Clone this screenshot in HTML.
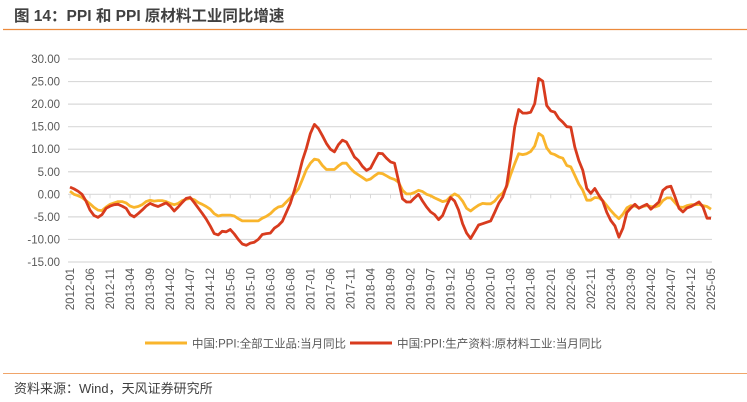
<!DOCTYPE html>
<html><head><meta charset="utf-8"><style>
html,body{margin:0;padding:0;background:#fff;}
body{width:747px;height:402px;overflow:hidden;position:relative;font-family:"Liberation Sans","Noto Sans CJK SC",sans-serif;}
</style></head><body>
<svg id="chart" width="747" height="402" xmlns="http://www.w3.org/2000/svg" style="position:absolute;left:0;top:0">
<text x="14" y="21" font-size="15.5" font-weight="bold" fill="#404040" font-family="Liberation Sans, Noto Sans CJK SC, sans-serif">图 14：PPI 和 PPI 原材料工业同比增速</text>
<line x1="3" y1="29.5" x2="747" y2="29.5" stroke="#ec8a3c" stroke-width="1.2"/>
<line x1="3" y1="373.5" x2="747" y2="373.5" stroke="#f0a56a" stroke-width="1"/>
<text x="14" y="393" font-size="13" fill="#404040" font-family="Liberation Sans, Noto Sans CJK SC, sans-serif">资料来源：Wind，天风证券研究所</text>
<g id="grid"></g><g id="yaxis"></g><g id="xaxis"></g><g id="series"></g>
<g>
<line x1="145" y1="343" x2="187" y2="343" stroke="#f9b52c" stroke-width="3"/>
<text x="192" y="347.5" font-size="11.5" fill="#595959" textLength="154" lengthAdjust="spacingAndGlyphs">中国:PPI:全部工业品:当月同比</text>
<line x1="350" y1="343" x2="392" y2="343" stroke="#d83b1e" stroke-width="3"/>
<text x="397" y="347.5" font-size="11.5" fill="#595959" textLength="205" lengthAdjust="spacingAndGlyphs">中国:PPI:生产资料:原材料工业:当月同比</text>
</g>
</svg>
<script>
const yTicks=[30,25,20,15,10,5,0,-5,-10,-15];
const xLabels=["2012-01","2012-06","2012-11","2013-04","2013-09","2014-02","2014-07","2014-12","2015-05","2015-10","2016-03","2016-08","2017-01","2017-06","2017-11","2018-04","2018-09","2019-02","2019-07","2019-12","2020-05","2020-10","2021-03","2021-08","2022-01","2022-06","2022-11","2023-04","2023-09","2024-02","2024-07","2024-12","2025-05"];
const ppiAll=[0.7,0.0,-0.3,-0.7,-1.4,-2.1,-2.9,-3.5,-3.6,-2.8,-2.2,-1.9,
-1.6,-1.6,-1.9,-2.6,-2.9,-2.7,-2.3,-1.6,-1.3,-1.5,-1.4,-1.4,
-1.6,-2.0,-2.3,-2.0,-1.4,-1.1,-0.9,-1.2,-1.8,-2.2,-2.7,-3.3,
-4.3,-4.8,-4.6,-4.6,-4.6,-4.8,-5.4,-5.9,-5.9,-5.9,-5.9,-5.9,
-5.3,-4.9,-4.3,-3.4,-2.8,-2.6,-1.7,-0.8,0.1,1.2,3.3,5.5,
6.9,7.8,7.6,6.4,5.5,5.5,5.5,6.3,6.9,6.9,5.8,4.9,
4.3,3.7,3.1,3.4,4.1,4.7,4.6,4.1,3.6,3.3,2.7,0.9,
0.1,0.1,0.4,0.9,0.6,0.0,-0.3,-0.8,-1.2,-1.6,-1.4,-0.5,
0.1,-0.4,-1.5,-3.1,-3.7,-3.0,-2.4,-2.0,-2.1,-2.1,-1.5,-0.4,
0.3,1.7,4.4,6.8,9.0,8.8,9.0,9.5,10.7,13.5,12.9,10.3,
9.1,8.8,8.3,8.0,6.4,6.1,4.2,2.3,0.9,-1.3,-1.3,-0.7,
-0.8,-1.4,-2.5,-3.6,-4.6,-5.4,-4.4,-3.0,-2.5,-2.6,-3.0,-2.7,
-2.5,-2.7,-2.8,-2.5,-1.4,-0.8,-0.8,-1.8,-2.8,-2.9,-2.5,-2.3,
-2.3,-2.2,-2.5,-2.7,-3.3];
const ppiRaw=[1.6,1.2,0.7,0.0,-1.5,-3.5,-4.7,-5.1,-4.5,-3.1,-2.6,-2.3,
-2.2,-2.6,-3.1,-4.5,-5.0,-4.3,-3.5,-2.6,-2.0,-2.4,-2.7,-2.3,
-1.9,-2.6,-3.7,-2.8,-1.8,-0.9,-0.7,-1.8,-3.0,-4.2,-5.5,-7.0,
-8.7,-9.0,-8.2,-8.3,-7.8,-8.8,-10.0,-11.0,-11.3,-10.8,-10.6,-10.0,
-8.9,-8.7,-8.6,-7.5,-6.9,-6.0,-4.0,-2.0,0.9,4.0,7.5,10.2,
13.5,15.5,14.6,13.0,11.3,10.0,9.4,11.0,12.0,11.6,10.0,8.3,
7.5,6.2,5.3,5.8,7.5,9.1,9.0,8.0,7.2,6.9,3.0,-1.0,
-1.7,-1.7,-0.8,0.0,-1.5,-2.8,-3.9,-4.5,-5.6,-4.7,-2.5,-0.7,
-1.5,-3.5,-6.5,-8.6,-9.8,-8.3,-6.8,-6.5,-6.2,-5.9,-4.0,-2.0,
-0.6,2.0,8.0,14.9,18.8,18.0,18.0,18.2,20.1,25.7,25.1,19.7,
18.5,18.2,16.8,16.0,15.0,14.9,10.5,7.5,5.3,1.3,0.2,1.3,
-0.2,-1.5,-4.0,-5.8,-7.0,-9.5,-7.5,-4.0,-3.0,-2.2,-3.1,-2.6,
-2.2,-3.3,-2.5,-1.7,0.9,1.6,1.8,-0.5,-3.1,-3.9,-3.0,-2.7,
-2.2,-1.7,-2.8,-5.3,-5.3];
const NS="http://www.w3.org/2000/svg";
const X0=70,X1=711,Y30=59,Yn15=262;
function x(i){return X0+i*(X1-X0)/(ppiAll.length-1);}
function y(v){return Y30+(30-v)*(Yn15-Y30)/45;}
function mk(tag,attrs,parent){const e=document.createElementNS(NS,tag);for(const k in attrs)e.setAttribute(k,attrs[k]);parent.appendChild(e);return e;}
const grid=document.getElementById('grid'),ya=document.getElementById('yaxis'),xa=document.getElementById('xaxis'),se=document.getElementById('series');
yTicks.forEach(v=>{
 const l=mk('line',{x1:68,x2:712,y1:y(v),y2:y(v),stroke:'#d9d9d9','stroke-width':1.2},grid);
 
 
 const t=mk('text',{x:60,y:y(v)+4,'text-anchor':'end','font-size':11.5,fill:'#595959'},ya);
 
 
 t.textContent=v.toFixed(2);
});
xLabels.forEach((lab,k)=>{
 const xi=x(k*5);
 const tk=mk('line',{x1:xi,x2:xi,y1:y(0),y2:y(0)+4,stroke:'#d9d9d9','stroke-width':1},xa);
 
 
 const t=mk('text',{x:0,y:0,transform:`translate(${xi+4},268) rotate(-90)`,'text-anchor':'end','font-size':11.5,fill:'#595959'},xa);
 
 
 t.textContent=lab;
});
function line(arr,color,name){
 const d=arr.map((v,i)=>(i?'L':'M')+x(i).toFixed(1)+','+y(v).toFixed(1)).join('');
 const p=mk('path',{d:d,fill:'none',stroke:color,'stroke-width':2.8,'stroke-linejoin':'round'},se);
 
 
}
line(ppiAll,'#f9b52c','ppi-all-line');
line(ppiRaw,'#d83b1e','ppi-raw-material-line');
</script>
</body></html>
